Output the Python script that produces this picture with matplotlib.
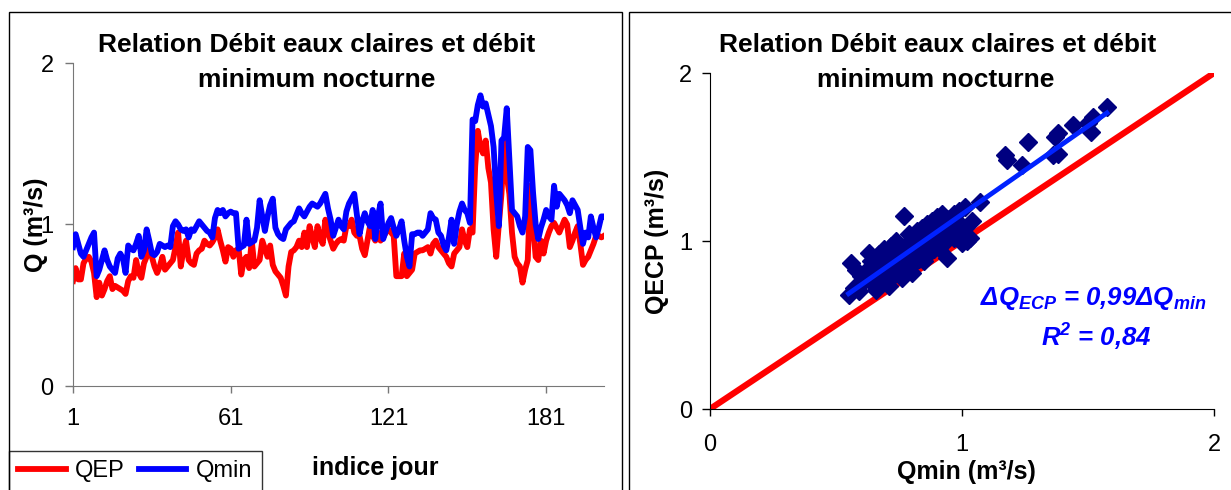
"""Débit eaux claires / débit minimum nocturne: série journalière et corrélation."""
import numpy as np
import matplotlib
matplotlib.use('Agg')
import matplotlib.pyplot as plt
from matplotlib.patches import Rectangle

plt.rcParams['font.family'] = ['Liberation Sans', 'DejaVu Sans']
plt.rcParams['mathtext.fontset'] = 'custom'
plt.rcParams['mathtext.rm'] = 'Liberation Sans:bold:italic'
plt.rcParams['mathtext.it'] = 'Liberation Sans:bold:italic'
plt.rcParams['mathtext.bf'] = 'Liberation Sans:bold:italic'

# daily series (m3/s), day 1..203
qep = [0.65, 0.73, 0.66, 0.66, 0.76, 0.79, 0.80, 0.77, 0.70, 0.55,
       0.64, 0.56, 0.60, 0.65, 0.68, 0.60, 0.62, 0.61, 0.60, 0.59,
       0.57, 0.65, 0.68, 0.67, 0.78, 0.70, 0.67, 0.76, 0.80, 0.85,
       0.80, 0.74, 0.70, 0.74, 0.80, 0.72, 0.74, 0.76, 0.78, 0.86,
       0.95, 0.74, 0.84, 0.90, 0.78, 0.76, 0.75, 0.82, 0.84, 0.85,
       0.90, 0.88, 0.87, 0.89, 0.92, 0.97, 0.90, 0.84, 0.77, 0.86,
       0.85, 0.80, 0.84, 0.85, 0.69, 0.78, 0.80, 0.73, 0.90, 0.74,
       0.76, 0.78, 0.90, 0.85, 0.80, 0.87, 0.75, 0.71, 0.69, 0.67,
       0.62, 0.56, 0.74, 0.83, 0.84, 0.86, 0.90, 0.86, 0.95, 0.86,
       0.99, 0.92, 0.86, 0.99, 0.92, 0.88, 1.03, 0.95, 0.90, 0.85,
       0.88, 0.90, 0.91, 0.90, 0.99, 0.99, 1.03, 0.95, 0.93, 0.93,
       0.85, 0.81, 0.90, 0.99, 0.93, 0.90, 0.95, 0.90, 0.92, 0.95,
       0.97, 0.95, 0.93, 0.68, 0.68, 0.68, 0.82, 0.68, 0.70, 0.72,
       0.82, 0.83, 0.84, 0.84, 0.85, 0.86, 0.82, 0.88, 0.90, 0.86,
       0.84, 0.82, 0.80, 0.76, 0.74, 0.82, 0.84, 0.86, 0.97, 0.90,
       0.86, 0.97, 0.95, 1.36, 1.58, 1.48, 1.44, 1.52, 1.35, 1.26,
       0.97, 0.80, 1.00, 1.19, 1.52, 1.30, 1.19, 0.95, 0.80, 0.76,
       0.74, 0.64, 0.72, 0.78, 1.24, 1.00, 0.80, 0.78, 0.90, 0.82,
       0.90, 0.95, 0.99, 1.01, 0.98, 0.95, 0.99, 1.03, 1.00, 0.86,
       0.90, 0.95, 0.99, 0.88, 0.75, 0.78, 0.80, 0.84, 0.88, 0.93,
       0.93, 0.92, 0.93]
qmin = [0.86, 0.94, 0.88, 0.82, 0.80, 0.84, 0.88, 0.92, 0.95, 0.68,
        0.72, 0.78, 0.84, 0.78, 0.74, 0.72, 0.70, 0.79, 0.82, 0.79,
        0.70, 0.87, 0.85, 0.84, 0.88, 0.93, 0.80, 0.84, 0.97, 0.90,
        0.82, 0.81, 0.83, 0.88, 0.87, 0.86, 0.87, 0.86, 0.99, 1.02,
        1.00, 0.97, 0.96, 0.97, 0.92, 0.97, 0.96, 0.99, 1.02, 1.00,
        0.98, 0.96, 0.95, 0.92, 1.04, 1.09, 1.07, 1.09, 1.05, 1.07,
        1.08, 1.07, 1.07, 0.85, 0.86, 0.87, 1.03, 0.88, 0.89, 0.90,
        0.98, 1.15, 1.05, 0.96, 1.05, 1.12, 1.16, 0.98, 0.94, 0.92,
        0.91, 0.97, 0.99, 1.01, 1.02, 1.06, 1.10, 1.07, 1.05, 1.08,
        1.11, 1.13, 1.12, 1.11, 1.13, 1.16, 1.19, 1.10, 1.03, 0.93,
        0.98, 1.03, 0.99, 0.97, 1.08, 1.13, 1.16, 1.19, 1.06, 0.94,
        1.02, 1.07, 1.02, 0.99, 1.09, 0.91, 1.05, 1.13, 0.91, 0.96,
        1.01, 1.04, 0.98, 0.93, 0.97, 1.02, 0.90, 0.80, 0.74, 0.94,
        0.94, 0.95, 0.95, 0.93, 0.95, 0.97, 1.07, 1.04, 1.03, 0.95,
        0.93, 0.87, 0.84, 0.92, 1.03, 0.88, 1.00, 1.08, 1.13, 1.09,
        1.07, 1.01, 1.65, 1.64, 1.74, 1.80, 1.73, 1.75, 1.68, 1.61,
        1.48, 1.20, 0.99, 1.52, 1.54, 1.72, 1.40, 1.09, 1.07, 1.05,
        0.99, 0.95, 1.05, 1.48, 1.46, 1.20, 1.00, 0.91, 0.98, 1.03,
        1.09, 1.05, 1.03, 1.24, 1.11, 1.19, 1.17, 1.15, 1.12, 1.07,
        1.15, 1.12, 1.09, 0.98, 0.88, 0.95, 0.92, 1.05, 0.98, 0.92,
        0.98, 1.05, 1.05]
days = np.arange(1, len(qmin) + 1)
day_ticks = [1, 61, 121, 181]

# scatter QECP vs Qmin
sc_qmin = [0.55, 0.56, 0.57, 0.58, 0.59, 0.60, 0.61, 0.62, 0.63, 0.64, 0.64, 0.65, 0.66,
           0.66, 0.67, 0.67, 0.68, 0.68, 0.69, 0.69, 0.70, 0.70, 0.71, 0.71, 0.72, 0.72,
           0.73, 0.73, 0.74, 0.74, 0.75, 0.75, 0.76, 0.76, 0.77, 0.77, 0.78, 0.78, 0.79,
           0.79, 0.80, 0.80, 0.80, 0.81, 0.81, 0.82, 0.82, 0.83, 0.83, 0.84, 0.84, 0.85,
           0.85, 0.86, 0.86, 0.87, 0.87, 0.88, 0.88, 0.89, 0.89, 0.90, 0.90, 0.91, 0.91,
           0.92, 0.92, 0.93, 0.93, 0.94, 0.94, 0.95, 0.96, 0.97, 0.97, 0.98, 0.99, 1.00,
           1.00, 1.01, 1.02, 1.03, 1.04, 1.07,
           1.17, 1.18, 1.24, 1.26, 1.36, 1.38, 1.37, 1.38, 1.44, 1.50, 1.51, 1.52, 1.575]
sc_qecp = [0.68, 0.87, 0.72, 0.83, 0.70, 0.79, 0.76, 0.82, 0.93, 0.78, 0.88, 0.74, 0.71,
           0.85, 0.80, 0.92, 0.75, 0.86, 0.82, 0.95, 0.78, 0.89, 0.73, 0.84, 0.88, 0.97,
           0.80, 0.92, 0.85, 1.00, 0.82, 0.95, 0.88, 0.78, 1.15, 0.91, 0.86, 0.98, 1.04,
           0.82, 0.92, 0.81, 1.00, 0.95, 0.87, 1.06, 0.90, 0.98, 0.89, 1.08, 0.94, 1.02,
           0.88, 0.97, 1.10, 1.04, 0.93, 1.12, 0.99, 1.06, 0.95, 1.14, 1.01, 1.08, 0.96,
           1.05, 1.16, 1.10, 0.99, 0.90, 1.06, 1.13, 1.08, 1.16, 1.02, 1.12, 1.18, 1.08,
           0.99, 1.20, 1.00, 1.02, 1.12, 1.23,
           1.51, 1.48, 1.45, 1.59, 1.51, 1.52, 1.62, 1.64, 1.69, 1.70, 1.65, 1.74, 1.80]
diag = [0, 2]

W, H = 1231, 490
fig = plt.figure(figsize=(W / 100, H / 100), dpi=100)

# chart frames
fig.patches.append(Rectangle((9 / W, -0.01), 613 / W, 1.01 - 12 / H, transform=fig.transFigure,
                             fill=False, edgecolor='black', linewidth=1))
fig.patches.append(Rectangle((629 / W, -0.01), 0.5, 1.01 - 12 / H, transform=fig.transFigure,
                             fill=False, edgecolor='black', linewidth=1))

# ---- left: time series
ax1 = fig.add_axes([73 / W, 1 - 386 / H, 531 / W, 323 / H])
l_qep, = ax1.plot(days, qep, color='#FF0000', lw=4.2, solid_joinstyle='round', zorder=2)
l_qmin, = ax1.plot(days, qmin, color='#0000FF', lw=4.2, solid_joinstyle='round', zorder=3)
ax1.set_xlim(1, len(qmin))
ax1.set_ylim(0, 2)
ax1.set_xticks(day_ticks)
ax1.set_yticks([0, 1, 2])
for s in ['top', 'right']:
    ax1.spines[s].set_visible(False)
for s in ['left', 'bottom']:
    ax1.spines[s].set_color('#777777')
ax1.tick_params(axis='x', length=5, width=1, color='#777777', labelsize=17, pad=11)
ax1.tick_params(axis='y', length=6, width=1, color='#777777', labelsize=17, pad=8)
ax1.set_ylabel('Q (m³/s)', fontsize=18, fontweight='bold', va='center')
ax1.yaxis.set_label_coords(-0.07, 0.5)
ax1.set_xlabel('indice jour', fontsize=18, fontweight='bold')
ax1.xaxis.label.set_verticalalignment('center')
ax1.xaxis.set_label_coords(0.569, -0.254)

leg = ax1.legend([l_qep, l_qmin], ['QEP', 'Qmin'], ncol=2, loc='upper left',
                 bbox_to_anchor=(9 / W, 1 - 451 / H), bbox_transform=fig.transFigure,
                 fontsize=17, frameon=True, fancybox=False, edgecolor='black',
                 borderpad=0.4, handlelength=2.0, handletextpad=0.4, columnspacing=0.6,
                 borderaxespad=0)
leg.get_frame().set_linewidth(1)

fig.text(317 / W, 1 - 45 / H, 'Relation Débit eaux claires et débit', ha='center', va='center',
         fontsize=19, fontweight='bold')
fig.text(317 / W, 1 - 80 / H, 'minimum nocturne', ha='center', va='center',
         fontsize=19, fontweight='bold')

# ---- right: scatter
ax2 = fig.add_axes([710 / W, 1 - 409 / H, 504 / W, 336 / H])
ax2.plot(diag, diag, color='#FF0000', lw=4.5, zorder=2, solid_capstyle='round')
ax2.plot(sc_qmin, sc_qecp, ls='none', marker='D', ms=9.5, color='#000080', zorder=3)
coef = np.polyfit(sc_qmin, sc_qecp, 1)
xf = np.array([min(sc_qmin), max(sc_qmin)])
ax2.plot(xf, np.polyval(coef, xf), color='#0022FF', lw=3.5, zorder=4)
ax2.set_xlim(0, 2)
ax2.set_ylim(0, 2)
ax2.set_xticks([0, 1, 2])
ax2.set_yticks([0, 1, 2])
for s in ['top', 'right']:
    ax2.spines[s].set_visible(False)
ax2.tick_params(axis='x', length=5, width=1, labelsize=17, pad=13)
ax2.tick_params(axis='y', length=6, width=1, labelsize=17, pad=7)
ax2.set_ylabel('QECP (m³/s)', fontsize=18, fontweight='bold', va='center')
ax2.yaxis.set_label_coords(-0.105, 0.5)
ax2.set_xlabel('Qmin (m³/s)', fontsize=18, fontweight='bold')
ax2.xaxis.label.set_verticalalignment('center')
ax2.xaxis.set_label_coords(0.508, -0.1875)

fig.text(1093 / W, 1 - 298 / H, 'ΔQ$_{ECP}$ = 0,99ΔQ$_{min}$', ha='center', va='center',
         fontsize=18.5, fontweight='bold', style='italic', color='#0000FF')
fig.text(1096 / W, 1 - 337 / H, 'R$^{2}$ = 0,84', ha='center', va='center',
         fontsize=18.5, fontweight='bold', style='italic', color='#0000FF')

fig.text(938 / W, 1 - 45 / H, 'Relation Débit eaux claires et débit', ha='center', va='center',
         fontsize=19, fontweight='bold')
fig.text(936 / W, 1 - 80 / H, 'minimum nocturne', ha='center', va='center',
         fontsize=19, fontweight='bold')

fig.savefig('out.png', dpi=100)
